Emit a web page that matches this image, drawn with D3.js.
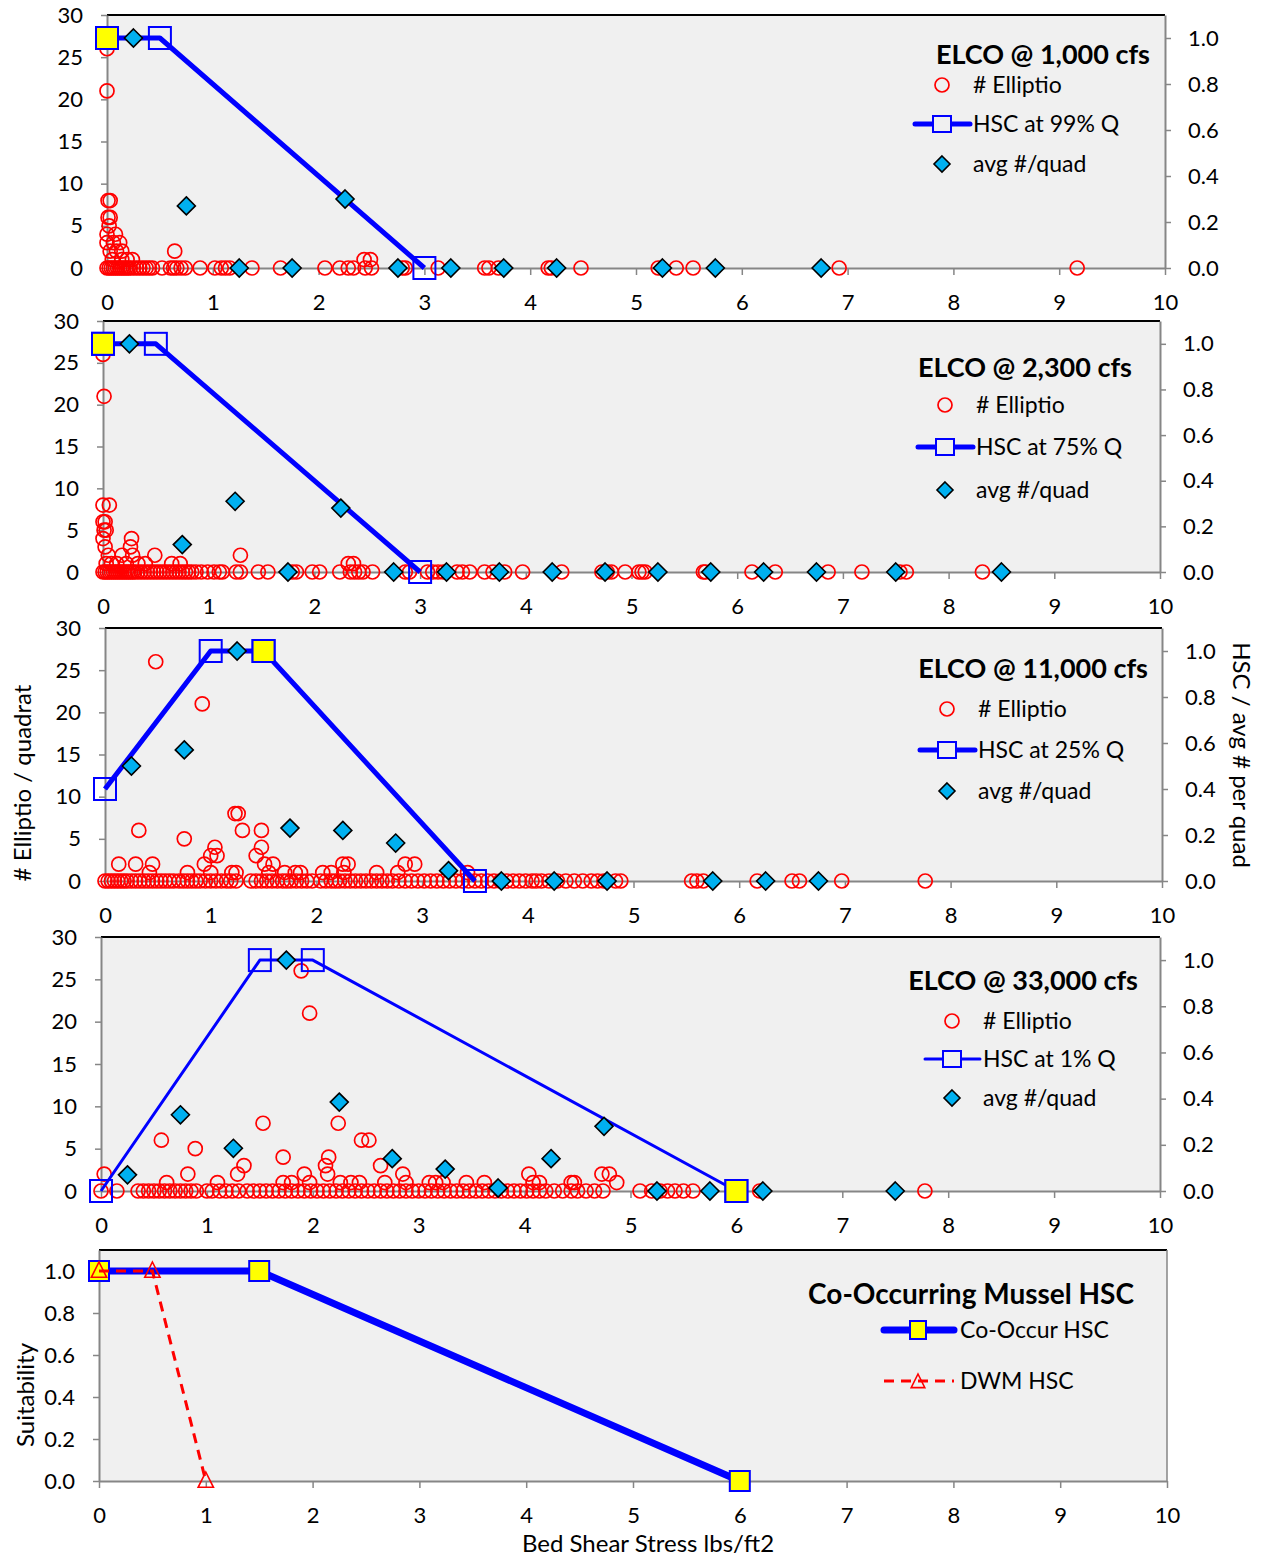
<!DOCTYPE html>
<html>
<head>
<meta charset="utf-8">
<script src="https://cdn.jsdelivr.net/npm/d3@7"></script>
<style>
  body { margin: 0; background: #fff; }
  text { font-family: Lato, "Open Sans", sans-serif; fill: #000; }
</style>
</head>
<body>
<script>
// axis ticks
var xTicks = [0, 1, 2, 3, 4, 5, 6, 7, 8, 9, 10];
var countTicks = [0, 5, 10, 15, 20, 25, 30];
var hscTicks = [0, 0.2, 0.4, 0.6, 0.8, 1.0];

// ---- panel 1: 1,000 cfs
var p1Hsc = [[0, 1], [0.5, 1], [3, 0]];
var p1CoOccur = [[0, 1]];
var p1Avg = [[0.25, 1.0], [0.75, 0.27], [1.25, 0], [1.75, 0], [2.25, 0.30], [2.75, 0], [3.25, 0], [3.75, 0], [4.25, 0], [5.25, 0], [5.75, 0], [6.75, 0]];
var p1Count = [[0.00, 26], [0.00, 21], [0.01, 8], [0.03, 8], [0.01, 6], [0.03, 6], [0.02, 5], [0.00, 4], [0.08, 4], [0.00, 3], [0.06, 3], [0.12, 3],
  [0.03, 2], [0.09, 2], [0.14, 2], [0.64, 2], [0.05, 1], [0.14, 1], [0.19, 1], [0.24, 1], [2.43, 1], [2.49, 1]];
var p1Zero = [0.00, 0.02, 0.04, 0.06, 0.08, 0.10, 0.12, 0.14, 0.16, 0.18, 0.20, 0.22, 0.25, 0.28, 0.31, 0.34, 0.37, 0.40, 0.43, 0.52, 0.60, 0.63,
  0.66, 0.70, 0.74, 0.88, 1.02, 1.08, 1.12, 1.16, 1.37, 1.64, 2.06, 2.20, 2.28, 2.33, 2.44, 2.50, 2.79, 2.82, 3.13, 3.57, 3.61, 3.70,
  4.17, 4.20, 4.48, 5.21, 5.38, 5.54, 6.92, 9.17];

// ---- panel 2: 2,300 cfs
var p2Hsc = [[0, 1], [0.5, 1], [3, 0]];
var p2CoOccur = [[0, 1]];
var p2Avg = [[0.25, 1.0], [0.75, 0.12], [1.25, 0.31], [1.75, 0], [2.25, 0.28], [2.75, 0], [3.25, 0], [3.75, 0], [4.25, 0], [4.75, 0], [5.25, 0],
  [5.75, 0], [6.25, 0], [6.75, 0], [7.5, 0], [8.5, 0]];
var p2Count = [[0.00, 26], [0.01, 21], [0.00, 8], [0.06, 8], [0.00, 6], [0.02, 6], [0.01, 5], [0.03, 5], [0.00, 4], [0.27, 4], [0.26, 3], [0.02, 3],
  [0.05, 2], [0.18, 2], [0.28, 2], [0.49, 2], [1.30, 2], [0.03, 1], [0.08, 1], [0.13, 1], [0.22, 1], [0.33, 1], [0.40, 1], [0.65, 1], [0.73, 1],
  [2.32, 1], [2.37, 1]];
var p2Zero = [0.00, 0.02, 0.04, 0.06, 0.08, 0.10, 0.12, 0.14, 0.16, 0.18, 0.20, 0.22, 0.24, 0.26, 0.28, 0.30, 0.33, 0.36, 0.39, 0.42, 0.45, 0.48,
  0.51, 0.54, 0.57, 0.60, 0.63, 0.66, 0.69, 0.72, 0.75, 0.78, 0.81, 0.84, 0.88, 0.93, 0.99, 1.05, 1.10, 1.13, 1.26, 1.30, 1.47, 1.56, 1.79,
  1.83, 1.98, 2.05, 2.24, 2.34, 2.38, 2.42, 2.46, 2.55, 2.86, 2.90, 3.07, 3.12, 3.17, 3.22, 3.35, 3.40, 3.47, 3.61, 3.69, 3.80, 3.97,
  4.34, 4.72, 4.77, 4.81, 4.94, 5.07, 5.10, 5.13, 5.68, 5.70, 6.14, 6.36, 6.86, 7.18, 7.54, 7.60, 8.32];

// ---- panel 3: 11,000 cfs
var p3Hsc = [[0, 0.4], [1, 1], [1.5, 1], [3.5, 0]];
var p3CoOccur = [[1.5, 1]];
var p3Avg = [[0.25, 0.50], [0.75, 0.57], [1.25, 1.0], [1.75, 0.23], [2.25, 0.22], [2.75, 0.165], [3.25, 0.045], [3.75, 0], [4.25, 0], [4.75, 0],
  [5.75, 0], [6.25, 0], [6.75, 0]];
var p3Count = [[0.48, 26], [0.92, 21], [1.23, 8], [1.26, 8], [0.32, 6], [1.30, 6], [1.48, 6], [0.75, 5], [1.04, 4], [1.48, 4], [1.00, 3], [1.06, 3],
  [1.43, 3], [0.13, 2], [0.29, 2], [0.45, 2], [0.94, 2], [1.51, 2], [1.59, 2], [2.25, 2], [2.30, 2], [2.84, 2], [2.93, 2], [0.42, 1], [0.78, 1],
  [1.00, 1], [1.20, 1], [1.24, 1], [1.55, 1], [1.70, 1], [1.80, 1], [1.85, 1], [2.06, 1], [2.14, 1], [2.26, 1], [2.57, 1], [2.77, 1], [3.43, 1]];
var p3Zero = [0.00, 0.03, 0.06, 0.09, 0.12, 0.15, 0.18, 0.21, 0.25, 0.29, 0.33, 0.37, 0.41, 0.45, 0.49, 0.53, 0.57, 0.61, 0.65, 0.70, 0.74, 0.78,
  0.82, 0.86, 0.90, 0.95, 1.00, 1.05, 1.10, 1.15, 1.19, 1.24, 1.38, 1.43, 1.48, 1.53, 1.58, 1.63, 1.68, 1.72, 1.76, 1.81, 1.86, 1.91, 1.96,
  2.04, 2.09, 2.14, 2.18, 2.22, 2.27, 2.32, 2.37, 2.42, 2.47, 2.52, 2.57, 2.62, 2.67, 2.72, 2.78, 2.84, 2.90, 2.96, 3.02, 3.08, 3.14, 3.20,
  3.26, 3.32, 3.38, 3.44, 3.50, 3.56, 3.62, 3.68, 3.74, 3.80, 3.86, 3.92, 3.98, 4.04, 4.08, 4.13, 4.20, 4.28, 4.36, 4.44, 4.52, 4.60, 4.66,
  4.72, 4.83, 4.88, 5.55, 5.60, 5.66, 6.17, 6.50, 6.57, 6.97, 7.76];

// ---- panel 4: 33,000 cfs
var p4Hsc = [[0, 0], [1.5, 1], [2, 1], [6, 0]];
var p4CoOccur = [[6, 0]];
var p4Avg = [[0.25, 0.07], [0.75, 0.33], [1.25, 0.185], [1.75, 1.0], [2.25, 0.385], [2.75, 0.14], [3.25, 0.095], [3.75, 0.013], [4.25, 0.14],
  [4.75, 0.28], [5.25, 0], [5.75, 0], [6.25, 0], [7.5, 0]];
var p4Count = [[1.89, 26], [1.97, 21], [1.53, 8], [2.24, 8], [0.57, 6], [2.46, 6], [2.53, 6], [0.89, 5], [1.72, 4], [2.15, 4], [1.35, 3], [2.12, 3],
  [2.64, 3], [0.03, 2], [0.82, 2], [1.29, 2], [1.92, 2], [2.14, 2], [2.85, 2], [4.04, 2], [4.73, 2], [4.80, 2], [0.62, 1], [1.10, 1], [1.72, 1],
  [1.80, 1], [1.97, 1], [2.26, 1], [2.36, 1], [2.44, 1], [2.68, 1], [2.88, 1], [3.10, 1], [3.16, 1], [3.23, 1], [3.45, 1], [3.62, 1], [4.08, 1],
  [4.14, 1], [4.44, 1], [4.47, 1], [4.87, 1]];
var p4Zero = [0.00, 0.15, 0.35, 0.40, 0.45, 0.50, 0.55, 0.60, 0.65, 0.70, 0.75, 0.80, 0.85, 0.90, 1.00, 1.05, 1.12, 1.18, 1.24, 1.30, 1.38, 1.44,
  1.50, 1.56, 1.62, 1.68, 1.74, 1.80, 1.86, 1.92, 1.98, 2.04, 2.10, 2.16, 2.22, 2.28, 2.34, 2.40, 2.46, 2.52, 2.58, 2.64, 2.70, 2.76, 2.82,
  2.88, 2.94, 3.00, 3.06, 3.12, 3.18, 3.24, 3.30, 3.36, 3.42, 3.48, 3.54, 3.60, 3.66, 3.72, 3.78, 3.84, 3.90, 3.96, 4.02, 4.08, 4.14, 4.20,
  4.28, 4.36, 4.44, 4.50, 4.58, 4.66, 4.74, 5.09, 5.20, 5.28, 5.35, 5.42, 5.50, 5.59, 6.22, 7.78];

// ---- panel 5: co-occurring mussel HSC
var coOccurHsc = [[0, 1], [1.5, 1], [6, 0]];
var dwmHsc = [[0, 1], [0.5, 1], [1, 0]];

var BLUE = "#0000ff", RED = "#ff0000", CYAN = "#00b0f0", YELLOW = "#ffff00", AXIS = "#868686";

var svg = d3.select("body").append("svg")
  .attr("width", 1263)
  .attr("height", 1556);

function styleAxis(g) {
  g.select(".domain").attr("stroke", AXIS).attr("stroke-width", 2);
  g.selectAll(".tick line").attr("stroke", AXIS).attr("stroke-width", 1.5);
  g.selectAll(".tick text").style("font-size", "22px").attr("fill", "#000");
}

function diamond(s) {
  return "M0," + (-s) + "L" + s + ",0L0," + s + "L" + (-s) + ",0Z";
}

function frame(p, yDomainTicks, yMax, fmt) {
  var x = d3.scaleLinear().domain([0, 10]).range([p.left, p.right]);
  var y = d3.scaleLinear().domain([0, yMax]).range([p.bottom, p.top]);
  svg.append("rect")
    .attr("x", p.left).attr("y", p.top)
    .attr("width", p.right - p.left).attr("height", p.bottom - p.top)
    .attr("fill", "#f0f0f0");
  svg.append("line")
    .attr("x1", p.left).attr("x2", p.right)
    .attr("y1", p.top).attr("y2", p.top)
    .attr("stroke", "#000").attr("stroke-width", 2);
  svg.append("g")
    .attr("transform", "translate(0," + p.bottom + ")")
    .call(d3.axisBottom(x).tickValues(xTicks).tickSize(7).tickPadding(19).tickSizeOuter(0))
    .call(styleAxis);
  svg.append("g")
    .attr("transform", "translate(" + p.left + ",0)")
    .call(d3.axisLeft(y).tickValues(yDomainTicks).tickFormat(fmt).tickSize(6).tickPadding(18).tickSizeOuter(0))
    .call(styleAxis);
  return {x: x, y: y};
}

function drawPanel(p) {
  var s = frame(p, countTicks, 30, d3.format("d"));
  var x = s.x, yL = s.y;
  var yR = d3.scaleLinear().domain([0, 1.1]).range([p.bottom, p.top]);
  svg.append("g")
    .attr("transform", "translate(" + p.right + ",0)")
    .call(d3.axisRight(yR).tickValues(hscTicks).tickFormat(d3.format(".1f")).tickSize(6).tickPadding(17).tickSizeOuter(0))
    .call(styleAxis);

  var counts = p.count.concat(p.zero.map(function(v) { return [v, 0]; }));
  svg.append("g").selectAll("circle")
    .data(counts)
    .enter()
    .append("circle")
    .attr("cx", function(d) { return x(d[0]); })
    .attr("cy", function(d) { return yL(d[1]); })
    .attr("r", 7)
    .attr("fill", "none")
    .attr("stroke", RED)
    .attr("stroke-width", 1.7);

  var line = d3.line().x(function(d) { return x(d[0]); }).y(function(d) { return yR(d[1]); });
  svg.append("path")
    .datum(p.hsc)
    .attr("d", line)
    .attr("fill", "none")
    .attr("stroke", BLUE)
    .attr("stroke-width", p.lw)
    .attr("stroke-linejoin", "round");
  svg.append("g").selectAll("rect")
    .data(p.hsc)
    .enter()
    .append("rect")
    .attr("x", function(d) { return x(d[0]) - 11; })
    .attr("y", function(d) { return yR(d[1]) - 11; })
    .attr("width", 22).attr("height", 22)
    .attr("fill", "none")
    .attr("stroke", BLUE)
    .attr("stroke-width", 2);

  svg.append("g").selectAll("path")
    .data(p.avg)
    .enter()
    .append("path")
    .attr("d", diamond(9))
    .attr("transform", function(d) { return "translate(" + x(d[0]) + "," + yR(d[1]) + ")"; })
    .attr("fill", CYAN)
    .attr("stroke", "#000")
    .attr("stroke-width", 1.6);

  svg.append("g").selectAll("rect")
    .data(p.coOccur)
    .enter()
    .append("rect")
    .attr("x", function(d) { return x(d[0]) - 11; })
    .attr("y", function(d) { return yR(d[1]) - 11; })
    .attr("width", 22).attr("height", 22)
    .attr("fill", YELLOW)
    .attr("stroke", BLUE)
    .attr("stroke-width", 2);

  // legend
  var lg = svg.append("g");
  lg.append("text")
    .attr("x", p.titleX).attr("y", p.titleY).attr("dy", "0.35em")
    .attr("text-anchor", "end")
    .style("font-size", "27px").style("font-weight", "bold")
    .text(p.title);
  lg.append("circle")
    .attr("cx", p.mx).attr("cy", p.ly[0]).attr("r", 7)
    .attr("fill", "none").attr("stroke", RED).attr("stroke-width", 1.7);
  lg.append("line")
    .attr("x1", p.mx - 27).attr("x2", p.mx + 28)
    .attr("y1", p.ly[1]).attr("y2", p.ly[1])
    .attr("stroke", BLUE).attr("stroke-width", p.lw).attr("stroke-linecap", "round");
  lg.append("rect")
    .attr("x", p.mx - 9).attr("y", p.ly[1] - 8).attr("width", 18).attr("height", 16)
    .attr("fill", "#f0f0f0").attr("stroke", BLUE).attr("stroke-width", 2);
  lg.append("path")
    .attr("d", diamond(8))
    .attr("transform", "translate(" + p.mx + "," + p.ly[2] + ")")
    .attr("fill", CYAN).attr("stroke", "#000").attr("stroke-width", 1.6);
  [p.countLabel, p.hscLabel, p.avgLabel].forEach(function(t, i) {
    lg.append("text")
      .attr("x", p.mx + 31).attr("y", p.ly[i]).attr("dy", "0.35em")
      .style("font-size", "23px")
      .text(t);
  });
}

drawPanel({left: 107, right: 1165, top: 15, bottom: 268, lw: 5,
  hsc: p1Hsc, coOccur: p1CoOccur, avg: p1Avg, count: p1Count, zero: p1Zero,
  title: "ELCO @ 1,000 cfs", titleX: 1150, titleY: 55, mx: 942, ly: [85, 124, 164],
  countLabel: "# Elliptio", hscLabel: "HSC at 99% Q", avgLabel: "avg #/quad"});
drawPanel({left: 103, right: 1160, top: 321, bottom: 572, lw: 5,
  hsc: p2Hsc, coOccur: p2CoOccur, avg: p2Avg, count: p2Count, zero: p2Zero,
  title: "ELCO @ 2,300 cfs", titleX: 1132, titleY: 368, mx: 945, ly: [405, 447, 490],
  countLabel: "# Elliptio", hscLabel: "HSC at 75% Q", avgLabel: "avg #/quad"});
drawPanel({left: 105, right: 1162, top: 628, bottom: 881, lw: 5,
  hsc: p3Hsc, coOccur: p3CoOccur, avg: p3Avg, count: p3Count, zero: p3Zero,
  title: "ELCO @ 11,000 cfs", titleX: 1148, titleY: 669, mx: 947, ly: [709, 750, 791],
  countLabel: "# Elliptio", hscLabel: "HSC at 25% Q", avgLabel: "avg #/quad"});
drawPanel({left: 101, right: 1160, top: 937, bottom: 1191, lw: 3,
  hsc: p4Hsc, coOccur: p4CoOccur, avg: p4Avg, count: p4Count, zero: p4Zero,
  title: "ELCO @ 33,000 cfs", titleX: 1138, titleY: 981, mx: 952, ly: [1021, 1059, 1098],
  countLabel: "# Elliptio", hscLabel: "HSC at 1% Q", avgLabel: "avg #/quad"});

// panel 5
var p5 = {left: 99, right: 1167, top: 1250, bottom: 1481};
var s5 = frame(p5, hscTicks, 1.1, d3.format(".1f"));
svg.append("line")
  .attr("x1", p5.right).attr("x2", p5.right)
  .attr("y1", p5.top).attr("y2", p5.bottom)
  .attr("stroke", AXIS).attr("stroke-width", 1.5);
var line5 = d3.line().x(function(d) { return s5.x(d[0]); }).y(function(d) { return s5.y(d[1]); });
svg.append("path")
  .datum(coOccurHsc)
  .attr("d", line5)
  .attr("fill", "none").attr("stroke", BLUE).attr("stroke-width", 7);
svg.append("g").selectAll("rect")
  .data(coOccurHsc)
  .enter()
  .append("rect")
  .attr("x", function(d) { return s5.x(d[0]) - 10; })
  .attr("y", function(d) { return s5.y(d[1]) - 10; })
  .attr("width", 20).attr("height", 20)
  .attr("fill", YELLOW).attr("stroke", BLUE).attr("stroke-width", 2);
svg.append("path")
  .datum(dwmHsc)
  .attr("d", line5)
  .attr("fill", "none").attr("stroke", RED).attr("stroke-width", 3)
  .attr("stroke-dasharray", "10,7");
function triangle(s) {
  return "M0," + (-s) + "L" + (s * 0.85) + "," + (s * 0.7) + "L" + (-s * 0.85) + "," + (s * 0.7) + "Z";
}
svg.append("g").selectAll("path")
  .data(dwmHsc)
  .enter()
  .append("path")
  .attr("d", triangle(9))
  .attr("transform", function(d) { return "translate(" + s5.x(d[0]) + "," + s5.y(d[1]) + ")"; })
  .attr("fill", "none").attr("stroke", RED).attr("stroke-width", 1.6);

var lg5 = svg.append("g");
lg5.append("text")
  .attr("x", 1134).attr("y", 1294).attr("dy", "0.35em")
  .attr("text-anchor", "end")
  .style("font-size", "28px").style("font-weight", "bold")
  .text("Co-Occurring Mussel HSC");
lg5.append("line")
  .attr("x1", 884).attr("x2", 954).attr("y1", 1330).attr("y2", 1330)
  .attr("stroke", BLUE).attr("stroke-width", 7).attr("stroke-linecap", "round");
lg5.append("rect")
  .attr("x", 910).attr("y", 1321).attr("width", 16).attr("height", 18)
  .attr("fill", YELLOW).attr("stroke", BLUE).attr("stroke-width", 2);
lg5.append("line")
  .attr("x1", 884).attr("x2", 954).attr("y1", 1381).attr("y2", 1381)
  .attr("stroke", RED).attr("stroke-width", 3).attr("stroke-dasharray", "10,7");
lg5.append("path")
  .attr("d", triangle(8))
  .attr("transform", "translate(918,1382)")
  .attr("fill", "none").attr("stroke", RED).attr("stroke-width", 1.6);
lg5.append("text").attr("x", 960).attr("y", 1330).attr("dy", "0.35em").style("font-size", "23px").text("Co-Occur HSC");
lg5.append("text").attr("x", 960).attr("y", 1381).attr("dy", "0.35em").style("font-size", "23px").text("DWM HSC");

// axis titles
svg.append("text")
  .attr("transform", "translate(31,783) rotate(-90)")
  .attr("text-anchor", "middle")
  .style("font-size", "24px")
  .text("# Elliptio / quadrat");
svg.append("text")
  .attr("transform", "translate(1233,755) rotate(90)")
  .attr("text-anchor", "middle")
  .style("font-size", "24px")
  .text("HSC / avg # per quad");
svg.append("text")
  .attr("transform", "translate(34,1395) rotate(-90)")
  .attr("text-anchor", "middle")
  .style("font-size", "24px")
  .text("Suitability");
svg.append("text")
  .attr("x", 648).attr("y", 1552)
  .attr("text-anchor", "middle")
  .style("font-size", "24px")
  .text("Bed Shear Stress lbs/ft2");
</script>
</body>
</html>
